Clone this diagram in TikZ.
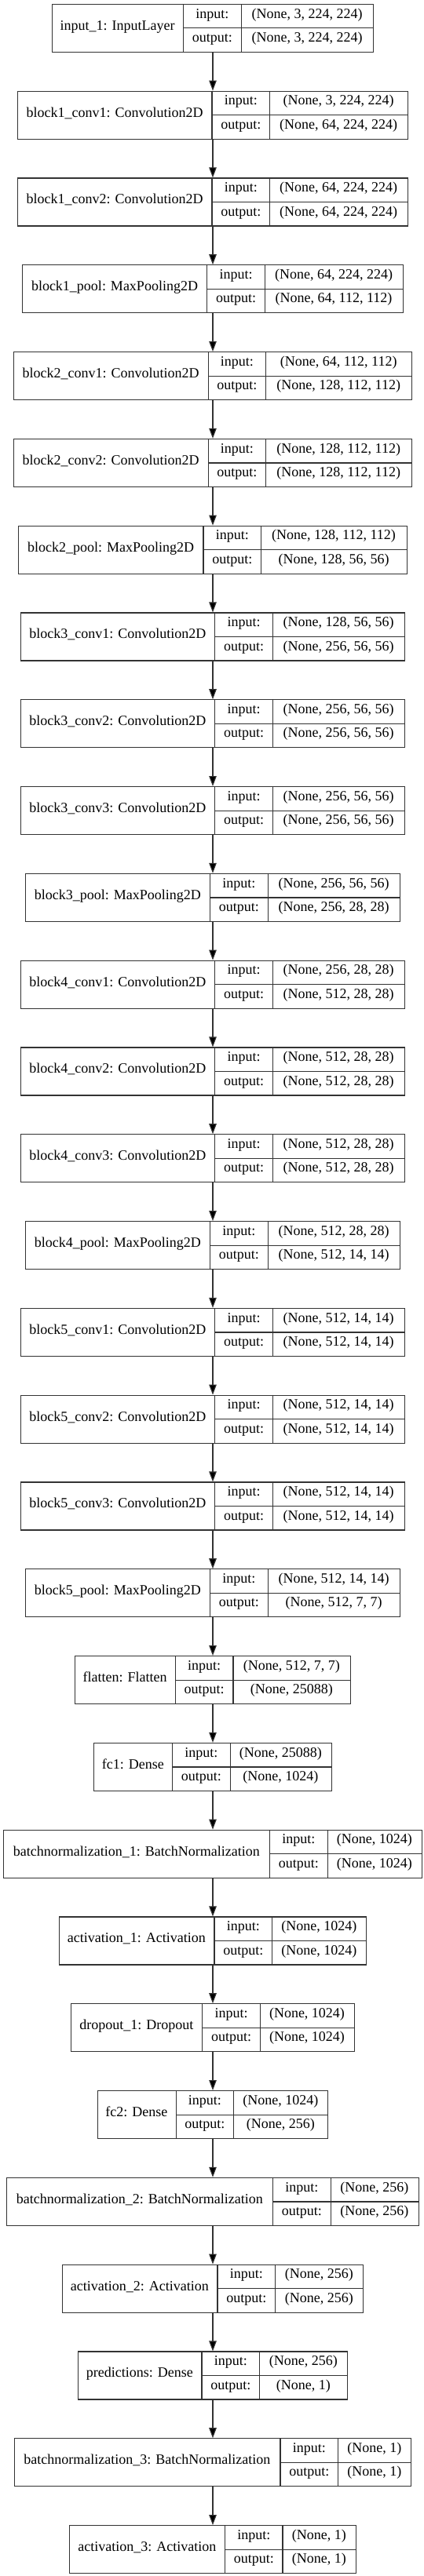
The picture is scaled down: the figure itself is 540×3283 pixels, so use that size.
\documentclass[tikz,border=0pt]{standalone}
\usepackage{fontspec}
\setmainfont{Liberation Serif}
\usetikzlibrary{arrows.meta}
\definecolor{edgegray}{gray}{0.2}
\tikzset{
  layerbox/.style={draw=edgegray, line width=1.2pt, minimum height=61pt, inner sep=0pt, anchor=north, fill=white},
  cellline/.style={draw=edgegray, line width=1.2pt},
  celltext/.style={inner sep=0pt, anchor=center, font=\fontsize{18}{20}\selectfont, text height=0.68em, text depth=0.2em},
  flowarrow/.style={draw=edgegray, line width=1.1pt, -{Triangle[length=13pt,width=9.5pt,fill=black]}}
}
\newcommand\kerasLayer[7]{%
  \pgfmathsetmacro\LyT{#4+73.6+#5}%
  \pgfmathsetmacro\LyY{4.8+#2*110.8}%
  \pgfmathsetmacro\LyA{#4/2}%
  \pgfmathsetmacro\LyB{#4+36.8}%
  \pgfmathsetmacro\LyC{#4+73.6}%
  \pgfmathsetmacro\LyD{#4+73.6+#5/2}%
  \node[layerbox, minimum width=\LyT pt] (#1) at (271,\LyY) {};
  \draw[cellline] ([xshift=#4pt]#1.north west) -- ([xshift=#4pt]#1.south west);
  \draw[cellline] ([xshift=\LyC pt]#1.north west) -- ([xshift=\LyC pt]#1.south west);
  \draw[cellline] ([xshift=#4pt]#1.west) -- (#1.east);
  \node[celltext] (#1name) at ([xshift=\LyA pt]#1.west) {#3};
  \node[celltext] (#1inl) at ([xshift=\LyB pt, yshift=15.25pt]#1.west) {input:};
  \node[celltext] (#1outl) at ([xshift=\LyB pt, yshift=-15.25pt]#1.west) {output:};
  \node[celltext] (#1inv) at ([xshift=\LyD pt, yshift=15.25pt]#1.west) {#6};
  \node[celltext] (#1outv) at ([xshift=\LyD pt, yshift=-15.25pt]#1.west) {#7};
}
\begin{document}
\begin{tikzpicture}[x=1pt,y=-1pt]
\fill[white] (0,0) rectangle (540,3283);
\useasboundingbox (0,0) rectangle (540,3283);
\kerasLayer{L0}{0}{input\_1: InputLayer}{167.9}{167.9}{(None, 3, 224, 224)}{(None, 3, 224, 224)}
\kerasLayer{L1}{1}{block1\_conv1: Convolution2D}{248}{175.1}{(None, 3, 224, 224)}{(None, 64, 224, 224)}
\kerasLayer{L2}{2}{block1\_conv2: Convolution2D}{248}{175.1}{(None, 64, 224, 224)}{(None, 64, 224, 224)}
\kerasLayer{L3}{3}{block1\_pool: MaxPooling2D}{235.7}{175.2}{(None, 64, 224, 224)}{(None, 64, 112, 112)}
\kerasLayer{L4}{4}{block2\_conv1: Convolution2D}{248}{185}{(None, 64, 112, 112)}{(None, 128, 112, 112)}
\kerasLayer{L5}{5}{block2\_conv2: Convolution2D}{248}{185}{(None, 128, 112, 112)}{(None, 128, 112, 112)}
\kerasLayer{L6}{6}{block2\_pool: MaxPooling2D}{235.7}{185}{(None, 128, 112, 112)}{(None, 128, 56, 56)}
\kerasLayer{L7}{7}{block3\_conv1: Convolution2D}{248}{167.6}{(None, 128, 56, 56)}{(None, 256, 56, 56)}
\kerasLayer{L8}{8}{block3\_conv2: Convolution2D}{248}{167.6}{(None, 256, 56, 56)}{(None, 256, 56, 56)}
\kerasLayer{L9}{9}{block3\_conv3: Convolution2D}{248}{167.6}{(None, 256, 56, 56)}{(None, 256, 56, 56)}
\kerasLayer{L10}{10}{block3\_pool: MaxPooling2D}{235.7}{167.6}{(None, 256, 56, 56)}{(None, 256, 28, 28)}
\kerasLayer{L11}{11}{block4\_conv1: Convolution2D}{248}{167.6}{(None, 256, 28, 28)}{(None, 512, 28, 28)}
\kerasLayer{L12}{12}{block4\_conv2: Convolution2D}{248}{167.6}{(None, 512, 28, 28)}{(None, 512, 28, 28)}
\kerasLayer{L13}{13}{block4\_conv3: Convolution2D}{248}{167.6}{(None, 512, 28, 28)}{(None, 512, 28, 28)}
\kerasLayer{L14}{14}{block4\_pool: MaxPooling2D}{235.7}{167.6}{(None, 512, 28, 28)}{(None, 512, 14, 14)}
\kerasLayer{L15}{15}{block5\_conv1: Convolution2D}{248}{167.6}{(None, 512, 14, 14)}{(None, 512, 14, 14)}
\kerasLayer{L16}{16}{block5\_conv2: Convolution2D}{248}{167.6}{(None, 512, 14, 14)}{(None, 512, 14, 14)}
\kerasLayer{L17}{17}{block5\_conv3: Convolution2D}{248}{167.6}{(None, 512, 14, 14)}{(None, 512, 14, 14)}
\kerasLayer{L18}{18}{block5\_pool: MaxPooling2D}{235.7}{167.6}{(None, 512, 14, 14)}{(None, 512, 7, 7)}
\kerasLayer{L19}{19}{flatten: Flatten}{128.4}{148.8}{(None, 512, 7, 7)}{(None, 25088)}
\kerasLayer{L20}{20}{fc1: Dense}{100.5}{128.4}{(None, 25088)}{(None, 1024)}
\kerasLayer{L21}{21}{batchnormalization\_1: BatchNormalization}{339.4}{119.4}{(None, 1024)}{(None, 1024)}
\kerasLayer{L22}{22}{activation\_1: Activation}{198.2}{119.4}{(None, 1024)}{(None, 1024)}
\kerasLayer{L23}{23}{dropout\_1: Dropout}{167.6}{119.4}{(None, 1024)}{(None, 1024)}
\kerasLayer{L24}{24}{fc2: Dense}{100.5}{119.4}{(None, 1024)}{(None, 256)}
\kerasLayer{L25}{25}{batchnormalization\_2: BatchNormalization}{339.4}{111.4}{(None, 256)}{(None, 256)}
\kerasLayer{L26}{26}{activation\_2: Activation}{198.2}{111.4}{(None, 256)}{(None, 256)}
\kerasLayer{L27}{27}{predictions: Dense}{158.2}{111.4}{(None, 256)}{(None, 1)}
\kerasLayer{L28}{28}{batchnormalization\_3: BatchNormalization}{339.4}{92.5}{(None, 1)}{(None, 1)}
\kerasLayer{L29}{29}{activation\_3: Activation}{198.2}{92.5}{(None, 1)}{(None, 1)}
\foreach \i [evaluate=\i as \j using int(\i+1)] in {0,...,28} {
  \draw[flowarrow] (L\i.south) -- (L\j.north);
}
\end{tikzpicture}
\end{document}
